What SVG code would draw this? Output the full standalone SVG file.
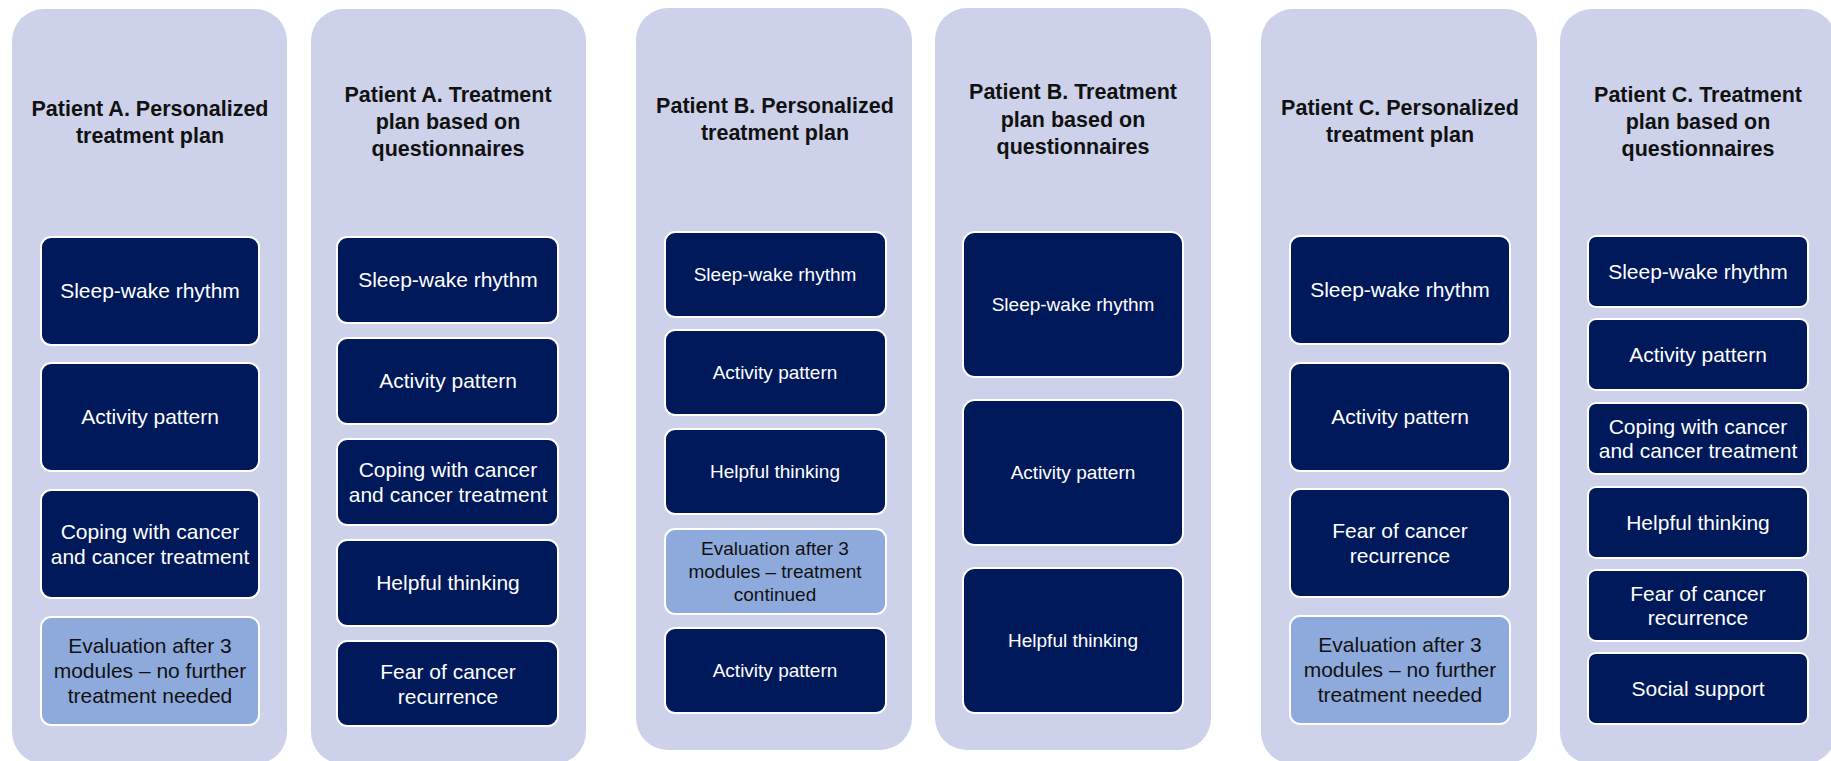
<svg xmlns="http://www.w3.org/2000/svg" width="1831" height="761" viewBox="0 0 1831 761">
<style>
.panel{fill:#CDD1EA;}
.dk{fill:#00195A;stroke:#ffffff;stroke-width:2;}
.lt{fill:#8EAADC;stroke:#ffffff;stroke-width:2;}
.title{font-family:"Liberation Sans",Arial,sans-serif;font-weight:bold;font-size:21.5px;fill:#111111;text-anchor:middle;}
.tw{font-family:"Liberation Sans",Arial,sans-serif;font-size:21px;fill:#ffffff;text-anchor:middle;}
.tb{font-family:"Liberation Sans",Arial,sans-serif;font-size:21px;fill:#111111;text-anchor:middle;}
.sw{font-size:19px;}
</style>
<rect width="1831" height="761" fill="#ffffff"/>

<g id="panel-a-personalized">
<rect class="panel" x="12" y="9" width="275" height="755" rx="32"/>
<text class="title" x="150" y="116">Patient A. Personalized</text>
<text class="title" x="150" y="143">treatment plan</text>
<g id="a1-sleep"><rect class="dk" x="41" y="237" width="218" height="108" rx="10"/><text class="tw" x="150" y="298">Sleep-wake rhythm</text></g>
<g id="a1-activity"><rect class="dk" x="41" y="363" width="218" height="108" rx="10"/><text class="tw" x="150" y="424">Activity pattern</text></g>
<g id="a1-coping"><rect class="dk" x="41" y="490" width="218" height="108" rx="10"/><text class="tw" x="150" y="539">Coping with cancer</text><text class="tw" x="150" y="564">and cancer treatment</text></g>
<g id="a1-eval"><rect class="lt" x="41" y="617" width="218" height="108" rx="10"/><text class="tb" x="150" y="653">Evaluation after 3</text><text class="tb" x="150" y="678">modules – no further</text><text class="tb" x="150" y="703">treatment needed</text></g>
</g>

<g id="panel-a-questionnaires">
<rect class="panel" x="311" y="9" width="275" height="755" rx="32"/>
<text class="title" x="448" y="102">Patient A. Treatment</text>
<text class="title" x="448" y="129">plan based on</text>
<text class="title" x="448" y="156">questionnaires</text>
<g id="a2-sleep"><rect class="dk" x="337" y="237" width="221" height="86" rx="10"/><text class="tw" x="448" y="287">Sleep-wake rhythm</text></g>
<g id="a2-activity"><rect class="dk" x="337" y="338" width="221" height="86" rx="10"/><text class="tw" x="448" y="388">Activity pattern</text></g>
<g id="a2-coping"><rect class="dk" x="337" y="439" width="221" height="86" rx="10"/><text class="tw" x="448" y="477">Coping with cancer</text><text class="tw" x="448" y="502">and cancer treatment</text></g>
<g id="a2-helpful"><rect class="dk" x="337" y="540" width="221" height="86" rx="10"/><text class="tw" x="448" y="590">Helpful thinking</text></g>
<g id="a2-fear"><rect class="dk" x="337" y="641" width="221" height="85" rx="10"/><text class="tw" x="448" y="679">Fear of cancer</text><text class="tw" x="448" y="704">recurrence</text></g>
</g>

<g id="panel-b-personalized">
<rect class="panel" x="636" y="8" width="276" height="742" rx="32"/>
<text class="title" x="775" y="113">Patient B. Personalized</text>
<text class="title" x="775" y="140">treatment plan</text>
<g id="b1-sleep"><rect class="dk" x="665" y="232" width="221" height="85" rx="10"/><text class="tw sw" x="775" y="281">Sleep-wake rhythm</text></g>
<g id="b1-activity"><rect class="dk" x="665" y="330" width="221" height="85" rx="10"/><text class="tw sw" x="775" y="379">Activity pattern</text></g>
<g id="b1-helpful"><rect class="dk" x="665" y="429" width="221" height="85" rx="10"/><text class="tw sw" x="775" y="478">Helpful thinking</text></g>
<g id="b1-eval"><rect class="lt" x="665" y="529" width="221" height="85" rx="10"/><text class="tb sw" x="775" y="555">Evaluation after 3</text><text class="tb sw" x="775" y="578">modules – treatment</text><text class="tb sw" x="775" y="601">continued</text></g>
<g id="b1-activity2"><rect class="dk" x="665" y="628" width="221" height="85" rx="10"/><text class="tw sw" x="775" y="677">Activity pattern</text></g>
</g>

<g id="panel-b-questionnaires">
<rect class="panel" x="935" y="8" width="276" height="742" rx="32"/>
<text class="title" x="1073" y="99">Patient B. Treatment</text>
<text class="title" x="1073" y="127">plan based on</text>
<text class="title" x="1073" y="154">questionnaires</text>
<g id="b2-sleep"><rect class="dk" x="963" y="232" width="220" height="145" rx="12"/><text class="tw sw" x="1073" y="311">Sleep-wake rhythm</text></g>
<g id="b2-activity"><rect class="dk" x="963" y="400" width="220" height="145" rx="12"/><text class="tw sw" x="1073" y="479">Activity pattern</text></g>
<g id="b2-helpful"><rect class="dk" x="963" y="568" width="220" height="145" rx="12"/><text class="tw sw" x="1073" y="647">Helpful thinking</text></g>
</g>

<g id="panel-c-personalized">
<rect class="panel" x="1261" y="9" width="276" height="755" rx="32"/>
<text class="title" x="1400" y="115">Patient C. Personalized</text>
<text class="title" x="1400" y="142">treatment plan</text>
<g id="c1-sleep"><rect class="dk" x="1290" y="236" width="220" height="108" rx="10"/><text class="tw" x="1400" y="297">Sleep-wake rhythm</text></g>
<g id="c1-activity"><rect class="dk" x="1290" y="363" width="220" height="108" rx="10"/><text class="tw" x="1400" y="424">Activity pattern</text></g>
<g id="c1-fear"><rect class="dk" x="1290" y="489" width="220" height="108" rx="10"/><text class="tw" x="1400" y="538">Fear of cancer</text><text class="tw" x="1400" y="563">recurrence</text></g>
<g id="c1-eval"><rect class="lt" x="1290" y="616" width="220" height="108" rx="10"/><text class="tb" x="1400" y="652">Evaluation after 3</text><text class="tb" x="1400" y="677">modules – no further</text><text class="tb" x="1400" y="702">treatment needed</text></g>
</g>

<g id="panel-c-questionnaires">
<rect class="panel" x="1560" y="9" width="276" height="755" rx="32"/>
<text class="title" x="1698" y="102">Patient C. Treatment</text>
<text class="title" x="1698" y="129">plan based on</text>
<text class="title" x="1698" y="156">questionnaires</text>
<g id="c2-sleep"><rect class="dk" x="1588" y="236" width="220" height="71" rx="8"/><text class="tw" x="1698" y="279">Sleep-wake rhythm</text></g>
<g id="c2-activity"><rect class="dk" x="1588" y="319" width="220" height="71" rx="8"/><text class="tw" x="1698" y="362">Activity pattern</text></g>
<g id="c2-coping"><rect class="dk" x="1588" y="403" width="220" height="71" rx="8"/><text class="tw" x="1698" y="434">Coping with cancer</text><text class="tw" x="1698" y="458">and cancer treatment</text></g>
<g id="c2-helpful"><rect class="dk" x="1588" y="487" width="220" height="71" rx="8"/><text class="tw" x="1698" y="530">Helpful thinking</text></g>
<g id="c2-fear"><rect class="dk" x="1588" y="570" width="220" height="71" rx="8"/><text class="tw" x="1698" y="601">Fear of cancer</text><text class="tw" x="1698" y="625">recurrence</text></g>
<g id="c2-social"><rect class="dk" x="1588" y="653" width="220" height="71" rx="8"/><text class="tw" x="1698" y="696">Social support</text></g>
</g>
</svg>
